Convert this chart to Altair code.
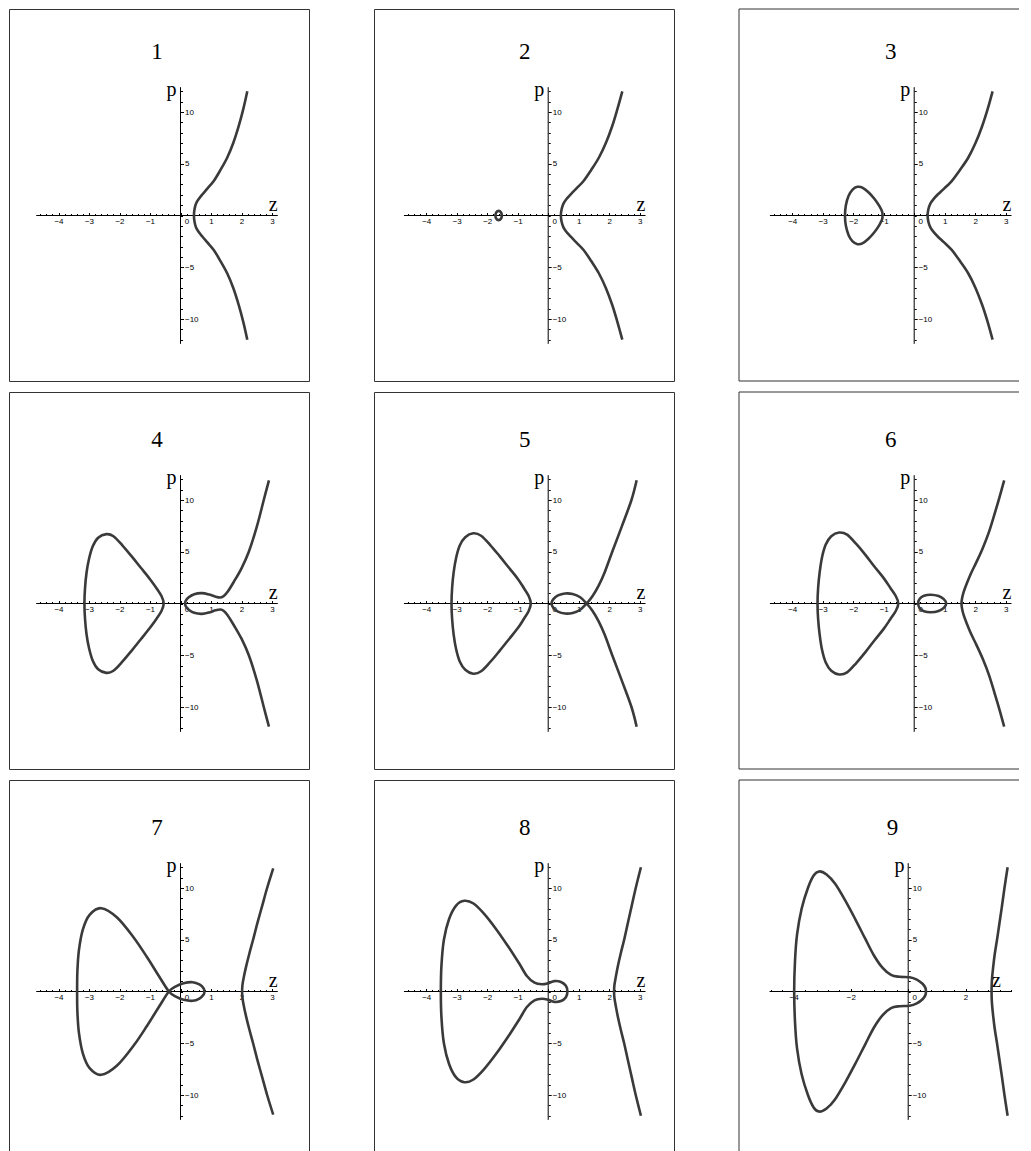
import altair as alt
import pandas as pd

# ---------------- curve data (z, p) ----------------
# Panel 1
P1_RIGHT_Z = [2.19, 2.06, 1.91, 1.73, 1.53, 1.31, 1.09, 0.88, 0.72, 0.6, 0.51, 0.46, 0.44,
              0.46, 0.51, 0.6, 0.72, 0.88, 1.09, 1.31, 1.53, 1.73, 1.91, 2.06, 2.19]
P1_RIGHT_P = [12.0, 10.3, 8.65, 7.0, 5.58, 4.4, 3.33, 2.6, 2.05, 1.6, 1.15, 0.6, 0.0,
              -0.6, -1.15, -1.6, -2.05, -2.6, -3.33, -4.4, -5.58, -7.0, -8.65, -10.3, -12.0]
# Panel 2
P2_OVAL_Z = [-1.73, -1.7, -1.625, -1.55, -1.52, -1.55, -1.625, -1.7]
P2_OVAL_P = [0.0, 0.32, 0.45, 0.32, 0.0, -0.32, -0.45, -0.32]
P2_RIGHT_Z = [2.43, 2.27, 2.1, 1.89, 1.66, 1.41, 1.16, 0.92, 0.74, 0.6, 0.5, 0.44, 0.415,
              0.44, 0.5, 0.6, 0.74, 0.92, 1.16, 1.41, 1.66, 1.89, 2.1, 2.27, 2.43]
P2_RIGHT_P = [12.0, 10.3, 8.65, 7.0, 5.58, 4.4, 3.33, 2.6, 2.05, 1.6, 1.15, 0.6, 0.0,
              -0.6, -1.15, -1.6, -2.05, -2.6, -3.33, -4.4, -5.58, -7.0, -8.65, -10.3, -12.0]
# Panel 3
P3_OVAL_Z = [-2.27, -2.24, -2.15, -2.02, -1.86, -1.7, -1.5, -1.3, -1.14, -1.05, -1.04,
             -1.05, -1.14, -1.3, -1.5, -1.7, -1.86, -2.02, -2.15, -2.24]
P3_OVAL_P = [0.0, 1.0, 1.9, 2.5, 2.77, 2.7, 2.25, 1.6, 0.9, 0.35, 0.0,
             -0.35, -0.9, -1.6, -2.25, -2.7, -2.77, -2.5, -1.9, -1.0]
P3_RIGHT_Z = [2.57, 2.41, 2.23, 2.01, 1.77, 1.5, 1.23, 0.98, 0.78, 0.64, 0.53, 0.465, 0.44,
              0.465, 0.53, 0.64, 0.78, 0.98, 1.23, 1.5, 1.77, 2.01, 2.23, 2.41, 2.57]
P3_RIGHT_P = [12.0, 10.3, 8.65, 7.0, 5.58, 4.4, 3.33, 2.6, 2.05, 1.6, 1.15, 0.6, 0.0,
              -0.6, -1.15, -1.6, -2.05, -2.6, -3.33, -4.4, -5.58, -7.0, -8.65, -10.3, -12.0]
# Panel 4
P4_LOOP_Z = [-3.15, -3.13, -3.08, -3.0, -2.88, -2.7, -2.43, -2.2, -1.9, -1.6, -1.3, -1.0, -0.78, -0.62, -0.55,
             -0.62, -0.78, -1.0, -1.3, -1.6, -1.9, -2.2, -2.43, -2.7, -2.88, -3.0, -3.08, -3.13]
P4_LOOP_P = [0.0, 1.5, 3.0, 4.3, 5.5, 6.35, 6.7, 6.5, 5.6, 4.55, 3.45, 2.35, 1.45, 0.7, 0.0,
             -0.7, -1.45, -2.35, -3.45, -4.55, -5.6, -6.5, -6.7, -6.35, -5.5, -4.3, -3.0, -1.5]
P4_RIGHT_Z = [2.9, 2.73, 2.5, 2.24, 2.0, 1.75, 1.55, 1.42, 1.31, 1.15, 0.95, 0.7, 0.45, 0.26, 0.17, 0.15,
              0.17, 0.26, 0.45, 0.7, 0.95, 1.15, 1.31, 1.42, 1.55, 1.75, 2.0, 2.24, 2.5, 2.73, 2.9]
P4_RIGHT_P = [11.9, 10.0, 7.4, 5.0, 3.4, 2.1, 1.15, 0.72, 0.58, 0.66, 0.86, 1.0, 0.9, 0.58, 0.25, 0.0,
              -0.25, -0.58, -0.9, -1.0, -0.86, -0.66, -0.58, -0.72, -1.15, -2.1, -3.4, -5.0, -7.4, -10.0, -11.9]
# Panel 5
P5_LOOP_Z = [-3.17, -3.15, -3.1, -3.02, -2.9, -2.72, -2.46, -2.2, -1.9, -1.6, -1.3, -1.0, -0.8, -0.64, -0.57,
             -0.64, -0.8, -1.0, -1.3, -1.6, -1.9, -2.2, -2.46, -2.72, -2.9, -3.02, -3.1, -3.15]
P5_LOOP_P = [0.0, 1.5, 3.0, 4.4, 5.6, 6.4, 6.78, 6.55, 5.65, 4.6, 3.5, 2.4, 1.5, 0.72, 0.0,
             -0.72, -1.5, -2.4, -3.5, -4.6, -5.65, -6.55, -6.78, -6.4, -5.6, -4.4, -3.0, -1.5]
P5_RIGHT_Z = [2.9, 2.73, 2.42, 2.1, 1.85, 1.65, 1.45, 1.26, 1.05, 0.8, 0.55, 0.32, 0.17, 0.11,
              0.17, 0.32, 0.55, 0.8, 1.05, 1.26, 1.45, 1.65, 1.85, 2.1, 2.42, 2.73, 2.9]
P5_RIGHT_P = [11.9, 10.0, 7.5, 5.0, 3.0, 1.7, 0.7, 0.0, -0.6, -0.92, -0.97, -0.78, -0.42, 0.0,
              0.42, 0.78, 0.97, 0.92, 0.6, 0.0, -0.7, -1.7, -3.0, -5.0, -7.5, -10.0, -11.9]
# Panel 6
P6_LOOP_Z = [-3.17, -3.15, -3.1, -3.02, -2.9, -2.72, -2.46, -2.2, -1.9, -1.6, -1.3, -1.0, -0.78, -0.6, -0.52,
             -0.6, -0.78, -1.0, -1.3, -1.6, -1.9, -2.2, -2.46, -2.72, -2.9, -3.02, -3.1, -3.15]
P6_LOOP_P = [0.0, 1.5, 3.0, 4.5, 5.7, 6.5, 6.86, 6.65, 5.75, 4.7, 3.55, 2.45, 1.5, 0.7, 0.0,
             -0.7, -1.5, -2.45, -3.55, -4.7, -5.75, -6.65, -6.86, -6.5, -5.7, -4.5, -3.0, -1.5]
P6_OVAL_Z = [0.13, 0.18, 0.32, 0.55, 0.8, 0.97, 1.05, 0.97, 0.8, 0.55, 0.32, 0.18]
P6_OVAL_P = [0.0, 0.45, 0.75, 0.85, 0.72, 0.42, 0.0, -0.42, -0.72, -0.85, -0.75, -0.45]
P6_RIGHT_Z = [2.95, 2.8, 2.64, 2.45, 2.24, 2.04, 1.86, 1.72, 1.62, 1.57, 1.55,
              1.57, 1.62, 1.72, 1.86, 2.04, 2.24, 2.45, 2.64, 2.8, 2.95]
P6_RIGHT_P = [11.9, 10.3, 8.7, 6.9, 5.3, 4.0, 2.9, 1.9, 1.1, 0.5, 0.0,
              -0.5, -1.1, -1.9, -2.9, -4.0, -5.3, -6.9, -8.7, -10.3, -11.9]
# Panel 7
P7_LOOP_Z = [-0.38, -0.15, 0.1, 0.4, 0.62, 0.76, 0.78, 0.76, 0.62, 0.4, 0.1, -0.15, -0.38,
             -0.71, -1.09, -1.53, -2.08, -2.6, -2.98, -3.2, -3.33, -3.38, -3.39,
             -3.38, -3.33, -3.2, -2.98, -2.6, -2.08, -1.53, -1.09, -0.71]
P7_LOOP_P = [0.0, -0.5, -0.8, -0.9, -0.68, -0.3, 0.0, 0.3, 0.68, 0.9, 0.8, 0.5, 0.0,
             -1.5, -3.28, -5.2, -7.15, -8.05, -7.4, -6.0, -4.0, -2.0, 0.0,
             2.0, 4.0, 6.0, 7.4, 8.05, 7.15, 5.2, 3.28, 1.5]
P7_RIGHT_Z = [3.04, 2.84, 2.68, 2.52, 2.38, 2.26, 2.15, 2.07, 2.03, 2.02,
              2.03, 2.07, 2.15, 2.26, 2.38, 2.52, 2.68, 2.84, 3.04]
P7_RIGHT_P = [11.9, 10.0, 8.3, 6.6, 5.0, 3.7, 2.4, 1.3, 0.6, 0.0,
              -0.6, -1.3, -2.4, -3.7, -5.0, -6.6, -8.3, -10.0, -11.9]
# Panel 8
P8_LOOP_Z = [-3.52, -3.5, -3.42, -3.25, -3.02, -2.75, -2.45, -2.1, -1.7, -1.3, -0.95, -0.7, -0.45, -0.2,
             0.0, 0.2, 0.42, 0.58, 0.63,
             0.58, 0.42, 0.2, 0.0, -0.2, -0.45, -0.7, -0.95, -1.3, -1.7, -2.1, -2.45, -2.75, -3.02,
             -3.25, -3.42, -3.5]
P8_LOOP_P = [0.0, 2.5, 5.0, 7.0, 8.3, 8.76, 8.5, 7.5, 6.0, 4.3, 2.7, 1.5, 0.85, 0.7,
             0.8, 1.0, 0.92, 0.55, 0.0,
             -0.55, -0.92, -1.0, -0.8, -0.7, -0.85, -1.5, -2.7, -4.3, -6.0, -7.5, -8.5, -8.76, -8.3,
             -7.0, -5.0, -2.5]
P8_RIGHT_Z = [3.04, 2.87, 2.74, 2.61, 2.49, 2.38, 2.28, 2.21, 2.17, 2.16,
              2.17, 2.21, 2.28, 2.38, 2.49, 2.61, 2.74, 2.87, 3.04]
P8_RIGHT_P = [12.0, 10.0, 8.3, 6.6, 5.0, 3.7, 2.4, 1.3, 0.6, 0.0,
              -0.6, -1.3, -2.4, -3.7, -5.0, -6.6, -8.3, -10.0, -12.0]
# Panel 9
P9_LOOP_Z = [-3.98, -3.95, -3.88, -3.72, -3.5, -3.3, -3.11, -2.85, -2.55, -2.2, -1.85, -1.5, -1.2, -0.9,
             -0.6, -0.3, 0.05, 0.3, 0.5, 0.6, 0.62,
             0.6, 0.5, 0.3, 0.05, -0.3, -0.6, -0.9, -1.2, -1.5, -1.85, -2.2, -2.55, -2.85, -3.11,
             -3.3, -3.5, -3.72, -3.88, -3.95]
P9_LOOP_P = [0.0, 3.0, 5.5, 8.0, 10.0, 11.2, 11.6, 11.3, 10.4, 8.8, 7.0, 5.1, 3.5, 2.3,
             1.6, 1.42, 1.38, 1.15, 0.75, 0.35, 0.0,
             -0.35, -0.75, -1.15, -1.38, -1.42, -1.6, -2.3, -3.5, -5.1, -7.0, -8.8, -10.4, -11.3, -11.6,
             -11.2, -10.0, -8.0, -5.5, -3.0]
P9_RIGHT_Z = [3.47, 3.36, 3.27, 3.18, 3.1, 3.02, 2.96, 2.92, 2.91,
              2.92, 2.96, 3.02, 3.1, 3.18, 3.27, 3.36, 3.47]
P9_RIGHT_P = [12.0, 10.0, 8.2, 6.5, 5.0, 3.6, 2.2, 1.0, 0.0,
              -1.0, -2.2, -3.6, -5.0, -6.5, -8.2, -10.0, -12.0]

# ---------------- tick values ----------------
X_MAJOR = [-4, -3, -2, -1, 0, 1, 2, 3]
X_MAJOR_9 = [-4, -2, 0, 2]
X_MINOR = [round(-4.6 + 0.2 * i, 1) for i in range(39)]
X_MINOR_9 = [round(-4.8 + 0.4 * i, 1) for i in range(22)]
Y_MAJOR = [-10, -5, 5, 10]
Y_MINOR = list(range(-12, 13))

TITLES = ["1", "2", "3", "4", "5", "6", "7", "8", "9"]

PANELS = [
    dict(open=[(P1_RIGHT_Z, P1_RIGHT_P)], closed=[]),
    dict(open=[(P2_RIGHT_Z, P2_RIGHT_P)], closed=[(P2_OVAL_Z, P2_OVAL_P)]),
    dict(open=[(P3_RIGHT_Z, P3_RIGHT_P)], closed=[(P3_OVAL_Z, P3_OVAL_P)]),
    dict(open=[(P4_RIGHT_Z, P4_RIGHT_P)], closed=[(P4_LOOP_Z, P4_LOOP_P)]),
    dict(open=[(P5_RIGHT_Z, P5_RIGHT_P)], closed=[(P5_LOOP_Z, P5_LOOP_P)]),
    dict(open=[(P6_RIGHT_Z, P6_RIGHT_P)], closed=[(P6_LOOP_Z, P6_LOOP_P), (P6_OVAL_Z, P6_OVAL_P)]),
    dict(open=[(P7_RIGHT_Z, P7_RIGHT_P)], closed=[(P7_LOOP_Z, P7_LOOP_P)]),
    dict(open=[(P8_RIGHT_Z, P8_RIGHT_P)], closed=[(P8_LOOP_Z, P8_LOOP_P)]),
    dict(open=[(P9_RIGHT_Z, P9_RIGHT_P)], closed=[(P9_LOOP_Z, P9_LOOP_P)]),
]

# ---------------- layout / style ----------------
FRAME_W = 300                        # frame width of the first two columns
LAST_W = 280                         # last column (its right edge is cut off in the picture)
SY = 10.35                           # px per unit of p
COL_OX = [171.5, 174.2, 175.2]       # px from frame left to the p axis, per column
SANS = "Liberation Sans"
SERIF = "Liberation Serif"
CURVE = "#3a3a3a"
FRAME = "#333333"


def branches_df(branches):
    rows = []
    for b, (zs, ps) in enumerate(branches):
        for k, (z, p) in enumerate(zip(zs, ps)):
            rows.append({"z": z, "p": p, "b": b, "k": k})
    return pd.DataFrame(rows)


def ax(**kw):
    base = dict(grid=False, domain=False, title=None, labelOverlap=False, labelFlush=False)
    base.update(kw)
    return alt.Axis(**base)


def make_panel(i, c, W, H, oy):
    spec = PANELS[i]
    nine = i == 8
    last_col = c == 2
    ox, sx = (169.2, 28.65) if nine else (COL_OX[c], 30.5)
    zview = [-4.84, 3.62] if nine else [-4.73, 3.19]
    pview = [-12.4, 12.4]
    xmaj = X_MAJOR_9 if nine else X_MAJOR
    xmin = X_MINOR_9 if nine else X_MINOR

    zdom = [-ox / sx, (W - ox) / sx]
    pdom = [-(H - oy) / SY, oy / SY]
    xs = alt.Scale(domain=zdom, nice=False, zero=False)
    ys = alt.Scale(domain=pdom, nice=False, zero=False)

    x_lab = ax(orient="bottom", offset=-(H - oy), values=xmaj, ticks=False, tickSize=0,
               labelFont=SANS, labelFontSize=8, labelColor="black", labelPadding=2, format="d",
               labelOffset={"condition": {"test": "datum.value === 0", "value": 6}, "value": 0})
    x_tmaj = ax(orient="top", offset=-oy, values=xmaj, labels=False, ticks=True,
                tickSize=3, tickColor="black", tickWidth=1)
    x_tmin = ax(orient="top", offset=-oy, values=xmin, labels=False, ticks=True,
                tickSize=2, tickColor="black", tickWidth=1)
    y_maj = ax(orient="right", offset=-(W - ox), values=Y_MAJOR, ticks=True, tickSize=3,
               tickColor="black", tickWidth=1, labelFont=SANS, labelFontSize=8,
               labelColor="black", labelPadding=1, format="d")
    y_min = ax(orient="right", offset=-(W - ox), values=Y_MINOR, labels=False, ticks=True,
               tickSize=2, tickColor="black", tickWidth=1)

    axes_df = pd.DataFrame({"z": [zview[0], 0.0], "z2": [zview[1], 0.0],
                            "p": [0.0, pview[0]], "p2": [0.0, pview[1]]})
    rules = alt.Chart(axes_df).mark_rule(color="black", strokeWidth=1).encode(
        x=alt.X("z:Q", scale=xs, axis=x_tmaj), x2="z2:Q",
        y=alt.Y("p:Q", scale=ys, axis=y_min), y2="p2:Q")

    layers = [rules]
    if last_col:
        # the right edge of the last column lies outside the picture: draw left/top/bottom only
        frame_df = pd.DataFrame({"z": [zdom[0], zdom[0], zdom[0]], "z2": [zdom[0], zdom[1], zdom[1]],
                                 "p": [pdom[0], pdom[1], pdom[0]], "p2": [pdom[1], pdom[1], pdom[0]]})
        layers.append(alt.Chart(frame_df).mark_rule(color=FRAME, strokeWidth=1).encode(
            x=alt.X("z:Q", scale=xs, axis=None), x2="z2:Q",
            y=alt.Y("p:Q", scale=ys, axis=None), y2="p2:Q"))
    if spec["closed"]:
        closed = alt.Chart(branches_df(spec["closed"])).mark_line(
            interpolate="cardinal-closed", color=CURVE, strokeWidth=2.6, clip=True).encode(
            x=alt.X("z:Q", scale=xs, axis=None), y=alt.Y("p:Q", scale=ys, axis=None),
            detail="b:N", order="k:Q")
        layers.append(closed)
    opened = alt.Chart(branches_df(spec["open"])).mark_line(
        interpolate="cardinal", color=CURVE, strokeWidth=2.6, clip=True).encode(
        x=alt.X("z:Q", scale=xs, axis=x_lab), y=alt.Y("p:Q", scale=ys, axis=y_maj),
        detail="b:N", order="k:Q")
    layers.append(opened)

    zlab_z = 3.08 if nine else 3.04
    title_z = -0.55 if nine else -0.77
    title_df = pd.DataFrame({"z": [title_z, zlab_z], "p": [15.1, 0.43],
                             "t": [TITLES[i], "z"], "fs": [23, 20]})
    texts = alt.Chart(title_df).mark_text(font=SERIF, color="black", align="center",
                                          baseline="alphabetic").encode(
        x=alt.X("z:Q", scale=xs, axis=x_tmin), y=alt.Y("p:Q", scale=ys, axis=None),
        text="t:N", size=alt.Size("fs:Q", scale=None, legend=None))
    plab = alt.Chart(pd.DataFrame({"z": [-0.13], "p": [11.5], "t": ["p"]})).mark_text(
        font=SERIF, fontSize=20, color="black", align="right", baseline="alphabetic").encode(
        x=alt.X("z:Q", scale=xs, axis=None), y=alt.Y("p:Q", scale=ys, axis=None), text="t:N")
    layers += [texts, plab]

    props = dict(width=W, height=H)
    if last_col:
        props["view"] = alt.ViewBackground(stroke="transparent")
    return alt.layer(*layers).resolve_axis(x="independent", y="independent").properties(**props)


rows = []
for r in range(3):
    H, oy = (372, 206.5) if r == 0 else (377, 211.5)
    cells = [make_panel(3 * r + c, c, LAST_W if c == 2 else FRAME_W, H, oy) for c in range(3)]
    rows.append(alt.hconcat(*cells, spacing=63))

chart = alt.vconcat(*rows, spacing=9).properties(padding=0).configure_view(
    stroke=FRAME, strokeWidth=1)

chart.save("out.html", embed_options={"renderer": "svg", "actions": False})
